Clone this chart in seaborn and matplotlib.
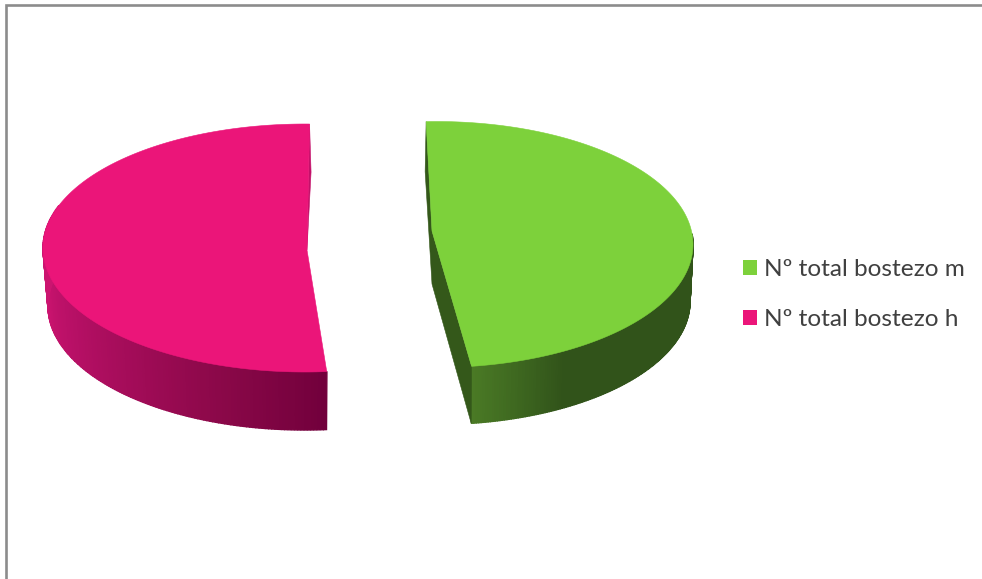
import numpy as np
import matplotlib
matplotlib.use("Agg")
import matplotlib.pyplot as plt
from matplotlib.patches import Patch
import seaborn as sns

# Share of yawns per group, in percent
labels = ["Nº total bostezo m", "Nº total bostezo h"]
values = [48.4, 51.6]
top_colors = ["#7DD13B", "#EB1579"]
cut_colors = ["#34581A", "#C4106A"]
wall_stops = [
    ["#4A7A25", "#31531A", "#31531A", "#31531A", "#31531A"],
    ["#72003C", "#8A0848", "#A20C58", "#B81066", "#CC1470", "#CC1470"],
]

sns.set_theme(style="white")
plt.rcParams["font.family"] = ["Lato", "DejaVu Sans"]

W, H = 982, 579
fig = plt.figure(figsize=(W / 100, H / 100), dpi=100, facecolor="white")
ax = fig.add_axes([0, 0, 1, 1])
ax.set_xlim(0, W)
ax.set_ylim(H, 0)
ax.axis("off")

# Geometry of the two exploded slices, in figure pixels
geometry = [
    dict(cx=436, cy=244.5, a=257, b=123, a_low=254, apex_x=432, apex_y=231, depth=57, twist=-2.2,
         wall=(172.0, 85), cut="both"),
    dict(cx=305, cy=248, a=262, b=124, a_low=257, apex_x=307, apex_y=250, depth=58, twist=1.0,
         wall=(175.2, 290), cut="top"),
]


def rim(g, theta, low=False):
    """Point on the upper or lower ellipse; theta runs clockwise from twelve o'clock."""
    t = np.radians(theta)
    a = g["a_low"] if low else g["a"]
    y = g["cy"] - g["b"] * np.cos(t) + (g["depth"] if low else 0)
    return g["cx"] + a * np.sin(t), y


edges = np.concatenate([[0], np.cumsum(values)]) * 360 / sum(values)

for i, g in enumerate(geometry):
    start, end = edges[i] + g["twist"], edges[i + 1] + g["twist"]

    # Outer wall, shaded in narrow strips along the arc
    t0, t1 = g["wall"]
    n = 160
    thetas = np.linspace(t0, t1, n + 1)
    shades = sns.blend_palette(wall_stops[i], n)
    for k in range(n):
        seg = np.linspace(thetas[k], thetas[k + 1], 3)
        ux, uy = rim(g, seg)
        lx, ly = rim(g, seg, low=True)
        ax.fill(np.r_[ux, lx[::-1]], np.r_[uy, ly[::-1]],
                facecolor=shades[k], edgecolor=shades[k], lw=1.0, zorder=2)

    # Cut faces of the slice
    apex = (g["apex_x"], g["apex_y"])
    sx, sy = rim(g, start)
    ex, ey = rim(g, end)
    if g["cut"] == "both":
        xs = [sx, apex[0], ex, rim(g, end, low=True)[0], apex[0], sx - 1]
        ys = [sy, apex[1], ey, ey + g["depth"], apex[1] + 53, sy + 50]
    else:
        xs = [ex, ex + 1.5, apex[0]]
        ys = [ey, ey + 48, apex[1]]
    ax.fill(xs, ys, facecolor=cut_colors[i], edgecolor=cut_colors[i], lw=0.4, zorder=3)

    # Top face
    arc = np.linspace(start, end, 240)
    ax_, ay_ = rim(g, arc)
    ax.fill(np.r_[apex[0], ax_], np.r_[apex[1], ay_],
            facecolor=top_colors[i], edgecolor=top_colors[i], lw=0.4, zorder=4)

# Chart frame: only the upper and left borders fall inside the canvas
ax.plot([6, 6, W], [H, 5.3, 5.3], color="#8C8C8C", lw=1.9, solid_joinstyle="miter", zorder=5)

handles = [Patch(facecolor=c, edgecolor=c, lw=0) for c in top_colors]
leg = ax.legend(
    handles, labels, loc="upper left", bbox_to_anchor=(743 / W, 1 - 259 / H),
    bbox_transform=fig.transFigure, frameon=False, fontsize=17.6,
    handlelength=0.57, handleheight=0.57, handletextpad=0.3,
    labelspacing=1.2, borderpad=0, borderaxespad=0, labelcolor="#404040",
)

fig.savefig("out.png", dpi=100, facecolor="white")
